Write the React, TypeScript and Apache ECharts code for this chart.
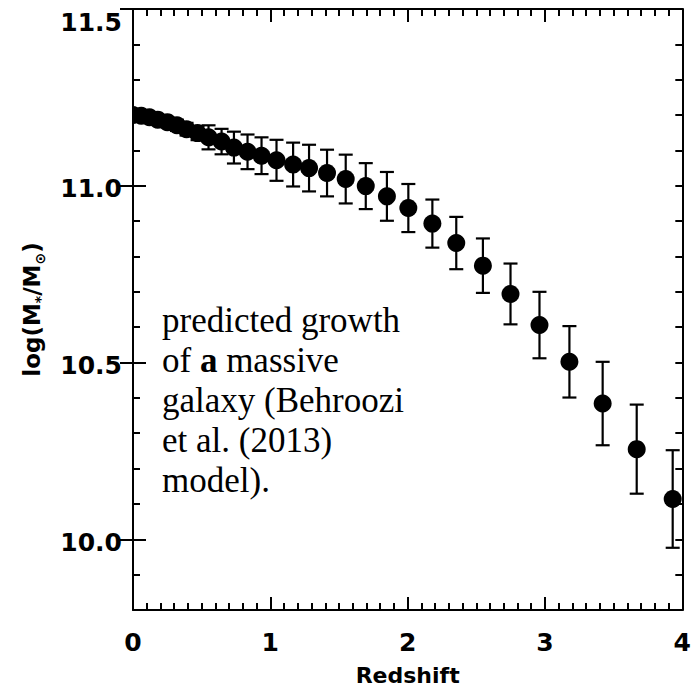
import React, { useEffect, useRef } from 'react';
import * as echarts from 'echarts';

// Redshift of each model point
const redshift = [0, 0.06, 0.12, 0.18, 0.25, 0.32, 0.39, 0.47, 0.55, 0.645, 0.735, 0.834, 0.936, 1.045, 1.166, 1.282, 1.413, 1.549, 1.695, 1.849, 2.005, 2.18, 2.354, 2.548, 2.749, 2.96, 3.178, 3.42, 3.668, 3.93];
// log(M*/Msun) of each point
const logMass = [11.2, 11.198, 11.194, 11.187, 11.18, 11.171, 11.16, 11.149, 11.137, 11.125, 11.108, 11.096, 11.085, 11.072, 11.06, 11.05, 11.036, 11.019, 10.999, 10.97, 10.937, 10.893, 10.838, 10.774, 10.694, 10.606, 10.502, 10.384, 10.255, 10.114];
// symmetric error (dex)
const massErr = [0.005, 0.008, 0.01, 0.012, 0.014, 0.016, 0.018, 0.02, 0.034, 0.036, 0.045, 0.049, 0.052, 0.058, 0.062, 0.066, 0.066, 0.069, 0.065, 0.069, 0.068, 0.068, 0.074, 0.077, 0.086, 0.094, 0.101, 0.118, 0.126, 0.138];
// labelled major ticks
const yMajorTicks = [10.0, 10.5, 11.0, 11.5];
const xMajorTicks = [0, 1, 2, 3, 4];

const annotationLines = ['predicted growth', 'of {b|a} massive', 'galaxy (Behroozi', 'et al. (2013)', 'model).'];

export default function App() {
  const ref = useRef<HTMLDivElement>(null);
  useEffect(() => {
    document.body.style.margin = '0';
    const chart = echarts.init(ref.current!, null, { renderer: 'svg' });
    const pts = redshift.map((z, i) => [z, logMass[i], logMass[i] - massErr[i], logMass[i] + massErr[i]]);
    const lineStyle = { color: '#000', width: 2 };
    const labelFont = { fontFamily: 'DejaVu Sans', fontWeight: 'bold' as const, fontSize: 25, color: '#000' };
    const xCommon = { type: 'value', min: 0, max: 4, interval: 1, splitLine: { show: false } };
    const yCommon = { type: 'value', min: 9.8, max: 11.5, interval: 0.1, splitLine: { show: false } };
    const isMajorY = (v: number) => yMajorTicks.some((t) => Math.abs(t - v) < 1e-6);
    const yMax = yMajorTicks[yMajorTicks.length - 1];

    const option: any = {
      animation: false,
      grid: { left: 133, top: 9, right: 11, bottom: 83, containLabel: false },
      xAxis: [
        {
          ...xCommon,
          position: 'bottom',
          axisLine: { show: true, onZero: false, lineStyle },
          axisTick: { show: true, inside: true, length: 13, lineStyle, customValues: xMajorTicks },
          minorTick: { show: true, splitNumber: 10, length: 7, lineStyle },
          axisLabel: { ...labelFont, margin: 20, formatter: (v: number) => String(v) },
          name: 'Redshift',
          nameLocation: 'middle',
          nameGap: 54,
          nameTextStyle: { fontFamily: 'DejaVu Sans', fontWeight: 'bold', fontSize: 22, color: '#000' },
        },
        {
          ...xCommon,
          position: 'top',
          axisLine: { show: true, onZero: false, lineStyle },
          axisTick: { show: true, inside: true, length: 13, lineStyle },
          minorTick: { show: true, splitNumber: 10, length: 7, lineStyle },
          axisLabel: { show: false },
        },
      ],
      yAxis: [
        {
          ...yCommon,
          position: 'left',
          axisLine: { show: true, onZero: false, lineStyle },
          axisTick: { show: true, inside: true, length: 7, lineStyle },
          axisLabel: {
            ...labelFont,
            margin: 11,
            formatter: (v: number) =>
              isMajorY(v) ? (Math.abs(v - yMax) < 1e-6 ? '{t|' + v.toFixed(1) + '}' : '{n|' + v.toFixed(1) + '}') : '',
            rich: {
              n: { ...labelFont, padding: [6, 0, 0, 0] },
              t: { ...labelFont, padding: [26, 0, 0, 0] },
            },
          },
          name: 'log(M{s|*}/M{s|⊙})',
          nameLocation: 'middle',
          nameRotate: 90,
          nameGap: 86,
          nameTextStyle: {
            fontFamily: 'DejaVu Sans',
            fontWeight: 'bold',
            fontSize: 23,
            lineHeight: 30,
            color: '#000',
            rich: {
              s: { fontFamily: 'DejaVu Sans', fontWeight: 'bold', fontSize: 14, verticalAlign: 'bottom', color: '#000' },
            },
          },
        },
        {
          ...yCommon,
          position: 'left',
          axisLine: { show: false },
          axisTick: { show: true, inside: true, length: 13, lineStyle, customValues: yMajorTicks },
          axisLabel: { show: false },
        },
        {
          ...yCommon,
          position: 'right',
          axisLine: { show: true, onZero: false, lineStyle },
          axisTick: { show: true, inside: true, length: 7, lineStyle },
          axisLabel: { show: false },
        },
        {
          ...yCommon,
          position: 'right',
          axisLine: { show: false },
          axisTick: { show: true, inside: true, length: 13, lineStyle, customValues: yMajorTicks },
          axisLabel: { show: false },
        },
      ],
      series: [
        {
          type: 'custom',
          xAxisIndex: 0,
          yAxisIndex: 0,
          clip: true,
          data: pts,
          renderItem: (params: any, api: any) => {
            const x = api.value(0);
            const c = api.coord([x, api.value(1)]);
            const lo = api.coord([x, api.value(2)]);
            const hi = api.coord([x, api.value(3)]);
            const cap = 7;
            const st = { stroke: '#000', lineWidth: 2.2 };
            return {
              type: 'group',
              children: [
                { type: 'line', shape: { x1: c[0], y1: lo[1], x2: c[0], y2: hi[1] }, style: st },
                { type: 'line', shape: { x1: c[0] - cap, y1: lo[1], x2: c[0] + cap, y2: lo[1] }, style: st },
                { type: 'line', shape: { x1: c[0] - cap, y1: hi[1], x2: c[0] + cap, y2: hi[1] }, style: st },
                { type: 'circle', shape: { cx: c[0], cy: c[1], r: 9 }, style: { fill: '#000' } },
              ],
            };
          },
        },
      ],
      graphic: [
        {
          type: 'text',
          x: 162,
          y: 300,
          style: {
            text: annotationLines.join('\n'),
            fontFamily: 'Liberation Serif',
            fontSize: 35,
            lineHeight: 40,
            fill: '#000',
            align: 'left',
            verticalAlign: 'top',
            rich: {
              b: { fontFamily: 'Liberation Serif', fontSize: 35, fontWeight: 'bold', lineHeight: 40, fill: '#000' },
            },
          },
        },
      ],
    };
    chart.setOption(option);
    return () => chart.dispose();
  }, []);
  return <div ref={ref} style={{ width: 694, height: 693 }} />;
}
